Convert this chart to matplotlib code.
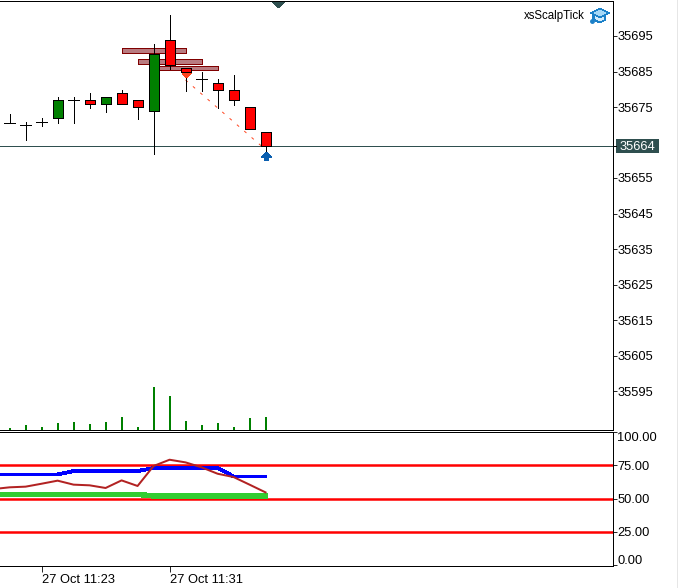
import matplotlib
matplotlib.use("Agg")
import matplotlib.pyplot as plt
from matplotlib.patches import Polygon, Rectangle
from matplotlib.transforms import Affine2D, ScaledTranslation

W, H = 678, 588
plt.rcParams['font.family'] = ['Liberation Sans', 'DejaVu Sans']
plt.rcParams['lines.antialiased'] = False
plt.rcParams['patch.antialiased'] = False
FS = 9.3
THIN = 0.6

# one minute candles, index 2 = 11:23
high = [35673.0, 35670.8, 35671.9, 35677.8, 35677.8, 35678.9, 35677.7, 35679.8, 35676.9,
        35692.7, 35700.9, 35685.9, 35684.9, 35682.9, 35684.0, 35674.9, 35667.9]
low = [35670.6, 35665.7, 35669.65, 35670.5, 35670.5, 35674.8, 35673.6, 35675.8, 35671.6,
       35661.8, 35685.7, 35679.6, 35679.6, 35674.8, 35675.6, 35668.7, 35662.0]
opens = [35670.6, 35669.85, 35670.7, 35671.8, 35676.9, 35676.9, 35675.8, 35678.9, 35676.9,
         35673.8, 35693.8, 35685.9, 35682.8, 35681.7, 35679.7, 35674.9, 35667.9]
close = [35670.6, 35669.85, 35670.7, 35676.9, 35676.9, 35675.8, 35677.7, 35675.8, 35674.9,
         35689.85, 35686.75, 35684.8, 35682.8, 35679.7, 35676.9, 35668.7, 35663.9]
volume = [2, 5, 3, 7, 8, 6, 8, 13, 3, 43, 34, 9, 5, 7, 3, 12, 13]

# zones: start candle, end candle, upper price, lower price
zone_start = [7, 8, 9]
zone_end = [11, 12, 13]
zone_top = [35691.5, 35688.4, 35686.5]
zone_bottom = [35690.3, 35687.2, 35685.3]

last_price = 35664
signal_start = (11, 35682.6)
signal_end = (16, 35663.0)

# lower panel, first point is the candle before the left edge
osc_x = list(range(-1, 17))
blue_line = [68.2, 68.2, 68.2, 68.2, 68.2, 70.7, 70.7, 70.7, 70.7, 70.7,
             73.0, 73.0, 73.0, 73.0, 73.0, 66.7, 66.7, 66.7]
brown_line = [57.2, 58.5, 59.0, 61.2, 63.5, 60.5, 60.0, 58.0, 63.7, 59.5,
              74.5, 79.2, 77.2, 73.5, 68.7, 66.2, 60.5, 54.7]
green_line = [53.2, 53.2, 53.2, 53.2, 53.2, 53.2, 53.2, 53.2, 53.2, 53.2,
              52.0, 52.0, 52.0, 52.0, 52.0, 52.0, 52.0, 52.0]
levels = [75, 50, 25]

price_ticks = [35695, 35685, 35675, 35655, 35645, 35635, 35625, 35615, 35605, 35595]
osc_ticks = [100, 75, 50, 25, 0]
time_ticks = [2, 10]
time_labels = ['27 Oct 11:23', '27 Oct 11:31']

fig = plt.figure(figsize=(W / 100, H / 100), dpi=100)
px = Affine2D().scale(1 / W, -1 / H).translate(0, 1) + fig.transFigure


def panel(left, top, right, bottom):
    return fig.add_axes([left / W, 1 - bottom / H, (right - left) / W, (bottom - top) / H])


ax = panel(0, 1, 613, 430)
ax2 = panel(0, 432, 613, 566)
xlim = (-0.6, 37.72)

for a in (ax, ax2):
    a.set_xlim(*xlim)
    a.spines['left'].set_visible(False)
    for s in ('top', 'right', 'bottom'):
        a.spines[s].set_linewidth(THIN)

# price panel
ax.set_ylim(35695 - (430 - 36) / 3.55, 35695 + (36 - 1) / 3.55)

# volume sits on the bottom of the price panel
vol = ax.twinx()
vol.set_ylim(0, 429)
vol.set_axis_off()
vol.bar([i + 0.04 for i in range(len(volume))], volume, width=0.14, color='green', linewidth=0)

ax.yaxis.tick_right()
ax.set_xticks([])
ax.set_yticks(price_ticks)
ax.set_yticklabels([str(p) for p in price_ticks], fontsize=FS)
ax.tick_params(axis='y', length=3, width=THIN, pad=0.2)

for i in range(3):
    ax.add_patch(Rectangle((zone_start[i], zone_bottom[i]), zone_end[i] - zone_start[i],
                           zone_top[i] - zone_bottom[i], facecolor='#b87b80', edgecolor='#800000',
                           linewidth=THIN, zorder=1))

ax.axhline(last_price, color='#2f4f4f', linewidth=THIN, zorder=1.5)
ax.plot([signal_start[0], signal_end[0]], [signal_start[1], signal_end[1]], color='#ff4520',
        linewidth=0.7, linestyle=(0, (3, 7)), antialiased=True, zorder=2)

for i in range(len(high)):
    ax.plot([i, i], [low[i], high[i]], color='black', linewidth=THIN, zorder=3, solid_capstyle='butt')
    if opens[i] == close[i]:
        ax.plot([i - 0.33, i + 0.33], [opens[i], opens[i]], color='black', linewidth=THIN, zorder=3,
                solid_capstyle='butt')
    else:
        c = 'green' if close[i] > opens[i] else 'red'
        ax.add_patch(Rectangle((i - 0.31, min(opens[i], close[i])), 0.62, abs(close[i] - opens[i]),
                               facecolor=c, edgecolor='black', linewidth=THIN, zorder=4))

# signal markers
fig.add_artist(Polygon([(182, 73), (191.5, 73), (186.5, 78)], closed=True, facecolor='#ff4520',
                       edgecolor='none', transform=px, zorder=0.5))
fig.add_artist(Polygon([(266.5, 152), (272, 157.5), (269, 157.5), (269, 161), (264, 161),
                        (264, 157.5), (261, 157.5)], closed=True, facecolor='#0a5fb0',
                       edgecolor='none', transform=px))
fig.add_artist(Polygon([(272.5, 2), (284.5, 2), (278.5, 8)], closed=True, facecolor='#2f4f4f',
                       edgecolor='none', transform=px))

# current price label
fig.add_artist(Rectangle((616, 139), 43, 14, facecolor='#2f4f4f', edgecolor='none', transform=px))
fig.add_artist(plt.Line2D([613.5, 616], [146, 146], color='black', linewidth=THIN, transform=px))
fig.text(619.5 / W, 1 - 146.5 / H, str(last_price), color='white', fontsize=FS, ha='left', va='center')

# name and cap icon
fig.text(585 / W, 1 - 16 / H, 'xsScalpTick', fontsize=8.3, ha='right', va='center', color='black')
fig.add_artist(Polygon([(594, 14), (605, 14), (605, 20), (600, 22.5), (594, 20)], closed=True,
                       facecolor='#d4ecfb', edgecolor='#1b80c8', linewidth=THIN, transform=px))
fig.add_artist(Polygon([(600, 8.5), (609, 13), (600, 17.5), (591, 13)], closed=True,
                       facecolor='#a5d8f7', edgecolor='#1b80c8', linewidth=THIN, transform=px))
fig.add_artist(plt.Line2D([591.5, 591.5], [13, 20], color='#1b80c8', linewidth=THIN, transform=px))
fig.add_artist(plt.Line2D([591.5], [21], marker='o', markersize=2.5, color='#1b80c8', transform=px))

# oscillator panel
ax2.set_ylim((565.3 - 566) / 1.333, (565.3 - 432) / 1.333)
for lv in levels:
    ax2.axhline(lv, color='red', linewidth=1.8, antialiased=True, zorder=1)
ax2.plot(osc_x, green_line, color='limegreen', linewidth=3.2, solid_capstyle='projecting', zorder=2)
ax2.plot(osc_x, blue_line, color='blue', linewidth=2.0, solid_capstyle='projecting', zorder=3)
ax2.plot(osc_x, brown_line, color='firebrick', linewidth=1.44, antialiased=True, zorder=4)
ax2.yaxis.tick_right()
ax2.set_yticks(osc_ticks)
ax2.set_yticklabels(['%.2f' % t for t in osc_ticks], fontsize=FS)
ax2.tick_params(axis='y', length=3, width=THIN, pad=0.2)

# end labels are pushed inside the panel
labels = ax2.get_yticklabels()
labels[0].set_transform(labels[0].get_transform() + ScaledTranslation(0, -5 / 100, fig.dpi_scale_trans))
labels[-1].set_transform(labels[-1].get_transform() + ScaledTranslation(0, 6 / 100, fig.dpi_scale_trans))

ax2.set_xticks(time_ticks)
ax2.set_xticklabels(time_labels, fontsize=FS, ha='left')
ax2.tick_params(axis='x', length=4, width=THIN, pad=1.5)

# thin grey edge of the window
fig.add_artist(plt.Line2D([677, 677], [0, H], color='#e6e6e6', linewidth=THIN, transform=px))

fig.savefig('out.png', dpi=100)
